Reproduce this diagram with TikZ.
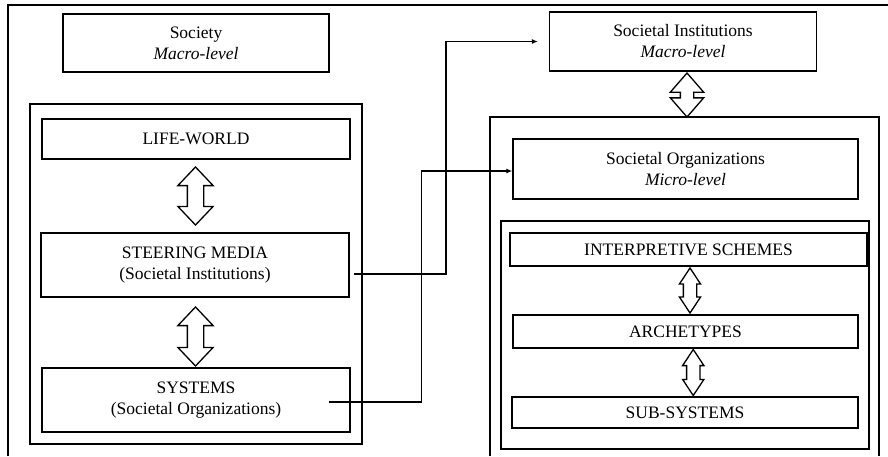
\documentclass[tikz,border=0pt]{standalone}
\usepackage{fontspec}
\setmainfont{Liberation Serif}
\usetikzlibrary{calc, shapes.arrows, arrows.meta}

\tikzset{
  box/.style={draw, align=center, inner sep=0pt},
  twoway/.style={double arrow, draw, fill=white, rotate=90, inner xsep=0pt},
  conn/.style={-{Latex[length=6pt,width=5pt]}}
}

\begin{document}
\begin{tikzpicture}[x=1pt, y=-1pt, line width=1.3pt, font=\fontsize{17.5}{21}\selectfont]
\useasboundingbox (0,0) rectangle (888,456);
% frames
\draw (8,456) -- (8,5) -- (888,5);
\draw (30,104) rectangle (362,444);
\draw (490,456) -- (490,117) -- (879,117) -- (879,456);
\draw (501,221) rectangle (869,449);

% left side
\node[box, minimum width=266, minimum height=58] (society) at (196,43) {Society\\\textit{Macro-level}};
\node[box, minimum width=308, minimum height=40] (lw) at (196,139) {LIFE-WORLD};
\node[box, minimum width=308, minimum height=64] (sm) at (195,265) {STEERING MEDIA\\(Societal Institutions)};
\node[box, minimum width=308, minimum height=64] (sys) at (196,400) {SYSTEMS\\(Societal Organizations)};

% right side
\node[box, minimum width=267, minimum height=59] (si) at (683,41.5) {Societal Institutions\\\textit{Macro-level}};
\node[box, minimum width=345, minimum height=60] (so) at (685.5,169) {Societal Organizations\\\textit{Micro-level}};
\node[box, minimum width=357, minimum height=33] (isch) at (688.5,249.5) {INTERPRETIVE SCHEMES};
\node[box, minimum width=345, minimum height=33] (arch) at (685.5,331.5) {ARCHETYPES};
\node[box, minimum width=346, minimum height=31] (sub) at (685,412.5) {SUB-SYSTEMS};

% two-way arrows
\node[twoway, minimum height=58, minimum width=34, inner ysep=7.5, double arrow head extend=9.5, double arrow tip angle=87] (lwsm) at ($(lw.south)!0.5!(sm.north)$) {};
\node[twoway, minimum height=59, minimum width=34, inner ysep=7.5, double arrow head extend=9.5, double arrow tip angle=87] (smsys) at ($(sm.south)!0.5!(sys.north)+(0,4)$) {};
\node[twoway, minimum height=44, minimum width=32, inner ysep=6, double arrow head extend=10, double arrow tip angle=82] (siso) at (687,95) {};
\node[twoway, minimum height=45, minimum width=20, inner ysep=6, double arrow head extend=4, double arrow tip angle=67] (ischarch) at ($(isch.south)!0.5!(arch.north)+(3,0)$) {};
\node[twoway, minimum height=46, minimum width=20, inner ysep=6, double arrow head extend=4, double arrow tip angle=67] (archsub) at ($(arch.south)!0.5!(sub.north)+(8,0)$) {};

% connectors
\coordinate (smout) at ($(sm.east)+(4,9)$);
\coordinate (sysout) at ($(sys.east)+(-22,2)$);
\draw[conn] (smout) -| ($(si.west)+(-103,0)$) -- ($(si.west)+(-11,0)$);
\draw[conn] (sysout) -| ($(so.west)+(-91,2)$) -- ($(so.west)+(0,2)$);
\end{tikzpicture}
\end{document}
